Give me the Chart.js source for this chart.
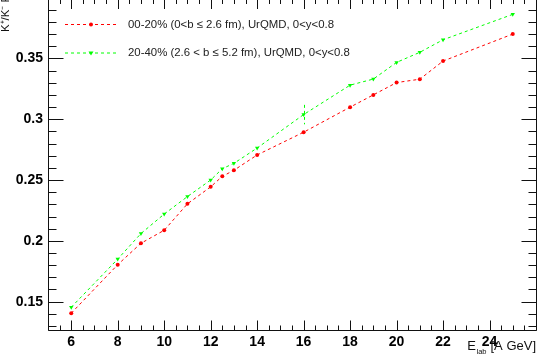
<!DOCTYPE html>
<html>
<head>
  <meta charset="utf-8">
  <title>K ratio vs beam energy</title>
  <script src="https://cdn.jsdelivr.net/npm/chart.js"></script>
  <style>
    html, body { margin: 0; padding: 0; background: #fff; }
    #wrap { width: 546px; height: 364px; }
  </style>
</head>
<body>
  <div id="wrap"><canvas id="ratioChart" width="546" height="364"></canvas></div>
  <script>
    // beam energies (A GeV)
    const energies = [6, 8, 9, 10, 11, 12, 12.5, 13, 14, 16, 18, 19, 20, 21, 22, 25];
    // 00-20% centrality
    const central = [0.1405, 0.1804, 0.198, 0.2087, 0.2304, 0.2444, 0.253, 0.258, 0.2706, 0.2893, 0.3099, 0.32, 0.3301, 0.3329, 0.3478, 0.370];
    // 20-40% centrality
    const midCentral = [0.1454, 0.185, 0.206, 0.222, 0.2364, 0.250, 0.2593, 0.2637, 0.2763, 0.3038, 0.328, 0.333, 0.3467, 0.355, 0.3653, 0.3862];
    const midCentralErr = [0, 0, 0, 0, 0, 0, 0, 0, 0, 0.008, 0, 0, 0, 0, 0, 0];

    const centralLabel = '00-20% (0<b \u2264 2.6 fm), UrQMD, 0<y<0.8';
    const midCentralLabel = '20-40% (2.6 < b \u2264 5.2 fm), UrQMD, 0<y<0.8';

    const xTickValues = [6, 8, 10, 12, 14, 16, 18, 20, 22, 24];
    const yTickValues = [0.15, 0.2, 0.25, 0.3, 0.35];

    const X_MIN = 5, X_MAX = 26, Y_MIN = 0.1267, Y_MAX = 0.398;
    const tickFont = { family: 'Liberation Sans', size: 14, weight: 'bold' };
    const textFont = '11.4px "Liberation Sans"';

    function toPoints(vals) {
      return energies.map((e, i) => ({ x: e, y: vals[i] }));
    }

    // ROOT-like frame: ticks pointing inward on all four sides
    // (the top edge of the frame sits just above the canvas, only its ticks show)
    const framePlugin = {
      id: 'frame',
      afterDatasetsDraw(chart) {
        const { ctx, chartArea: a, scales: { x, y } } = chart;
        const l = Math.round(a.left) + 0.5, r = Math.round(a.right) + 0.5, b = Math.round(a.bottom) + 0.5;
        ctx.save();
        ctx.strokeStyle = '#111';
        ctx.lineWidth = 1;
        ctx.beginPath();
        ctx.moveTo(l, a.top); ctx.lineTo(l, b); ctx.lineTo(r, b); ctx.lineTo(r, a.top);
        ctx.stroke();

        ctx.beginPath();
        for (let v = X_MIN; v <= X_MAX + 1e-9; v += 0.5) {
          const px = Math.round(x.getPixelForValue(v)) + 0.5;
          const major = xTickValues.some(t => Math.abs(t - v) < 1e-6);
          const len = major ? 10 : 5;
          ctx.moveTo(px, b); ctx.lineTo(px, b - len);
          ctx.moveTo(px, a.top); ctx.lineTo(px, a.top + len - 1);
        }
        for (let i = 13; i <= 39; i++) {
          const v = i / 100;
          const py = Math.round(y.getPixelForValue(v)) + 0.5;
          const major = i % 5 === 0;
          const len = major ? 15 : 8;
          ctx.moveTo(l, py); ctx.lineTo(l + len, py);
          ctx.moveTo(r, py); ctx.lineTo(r - len, py);
        }
        ctx.stroke();

        // error bars of the 20-40% set
        const meta = chart.getDatasetMeta(1);
        ctx.strokeStyle = '#00ff00';
        ctx.setLineDash([3, 3]);
        ctx.beginPath();
        midCentralErr.forEach((err, i) => {
          if (!err) return;
          const px = Math.round(meta.data[i].x) + 0.5;
          ctx.moveTo(px, y.getPixelForValue(midCentral[i] + err));
          ctx.lineTo(px, y.getPixelForValue(midCentral[i] - err));
        });
        ctx.stroke();
        ctx.restore();
      },
      afterDraw(chart) {
        const { ctx } = chart;
        ctx.save();
        // legend
        const rows = [
          { ds: chart.data.datasets[0], y: 24.5 },
          { ds: chart.data.datasets[1], y: 53 }
        ];
        rows.forEach(r => {
          ctx.strokeStyle = r.ds.borderColor;
          ctx.lineWidth = 1;
          ctx.setLineDash(r.ds.borderDash);
          ctx.beginPath();
          ctx.moveTo(65, r.y); ctx.lineTo(118, r.y);
          ctx.stroke();
          ctx.setLineDash([]);
          ctx.fillStyle = r.ds.pointBackgroundColor;
          ctx.beginPath();
          if (r.ds.pointStyle === 'circle') {
            ctx.arc(91, r.y, 2, 0, Math.PI * 2);
          } else {
            ctx.moveTo(88.5, r.y - 1.5); ctx.lineTo(93.5, r.y - 1.5); ctx.lineTo(91, r.y + 2.5); ctx.closePath();
          }
          ctx.fill();
          ctx.fillStyle = '#222';
          ctx.font = textFont;
          ctx.textBaseline = 'middle';
          ctx.textAlign = 'left';
          ctx.fillText(r.ds.label, 128, r.y);
        });

        // x axis title with subscript
        ctx.fillStyle = '#111';
        ctx.textBaseline = 'alphabetic';
        ctx.textAlign = 'right';
        ctx.font = '13px "Liberation Sans"';
        ctx.fillText('[A GeV]', 536, 350);
        let right = 536 - ctx.measureText('[A GeV]').width - 4;
        ctx.font = '7.5px "Liberation Sans"';
        ctx.fillText('lab', right, 354);
        right -= ctx.measureText('lab').width + 0.5;
        ctx.font = '13px "Liberation Sans"';
        ctx.fillText('E', right, 350);

        // y axis title, rotated
        ctx.translate(9, 32);
        ctx.rotate(-Math.PI / 2);
        ctx.textAlign = 'left';
        ctx.font = textFont;
        ctx.fillText('K\u207A/K\u207B Ratio', 0, 0);
        ctx.restore();
      }
    };

    new Chart(document.getElementById('ratioChart'), {
      type: 'line',
      data: {
        datasets: [
          {
            label: centralLabel,
            data: toPoints(central),
            borderColor: '#ff0000',
            borderWidth: 1,
            borderDash: [3, 3],
            pointStyle: 'circle',
            pointRadius: 2,
            pointBorderWidth: 0,
            pointBackgroundColor: '#ff0000',
            fill: false,
            tension: 0
          },
          {
            label: midCentralLabel,
            data: toPoints(midCentral),
            borderColor: '#00ff00',
            borderWidth: 1,
            borderDash: [3, 3],
            pointStyle: 'triangle',
            rotation: 180,
            pointRadius: 2.5,
            pointBorderWidth: 0,
            pointBackgroundColor: '#00ff00',
            fill: false,
            tension: 0
          }
        ]
      },
      options: {
        responsive: false,
        animation: false,
        events: [],
        layout: { autoPadding: false, padding: { top: 0, right: 10, left: 0, bottom: 0 } },
        plugins: {
          legend: { display: false },
          tooltip: { enabled: false }
        },
        scales: {
          x: {
            type: 'linear',
            min: X_MIN,
            max: X_MAX,
            afterBuildTicks: s => { s.ticks = xTickValues.map(v => ({ value: v })); },
            afterFit: s => { s.height = 34; s.paddingLeft = 0; s.paddingRight = 0; },
            grid: { display: false, drawTicks: false },
            border: { display: false },
            ticks: { font: tickFont, color: '#000', padding: 4, maxRotation: 0, autoSkip: false }
          },
          y: {
            type: 'linear',
            min: Y_MIN,
            max: Y_MAX,
            afterBuildTicks: s => { s.ticks = yTickValues.map(v => ({ value: v })); },
            afterFit: s => { s.width = 48; s.paddingTop = 0; s.paddingBottom = 0; },
            grid: { display: false, drawTicks: false },
            border: { display: false },
            ticks: { font: tickFont, color: '#000', padding: 5, autoSkip: false, callback: v => String(v) }
          }
        }
      },
      plugins: [framePlugin]
    });
  </script>
</body>
</html>
